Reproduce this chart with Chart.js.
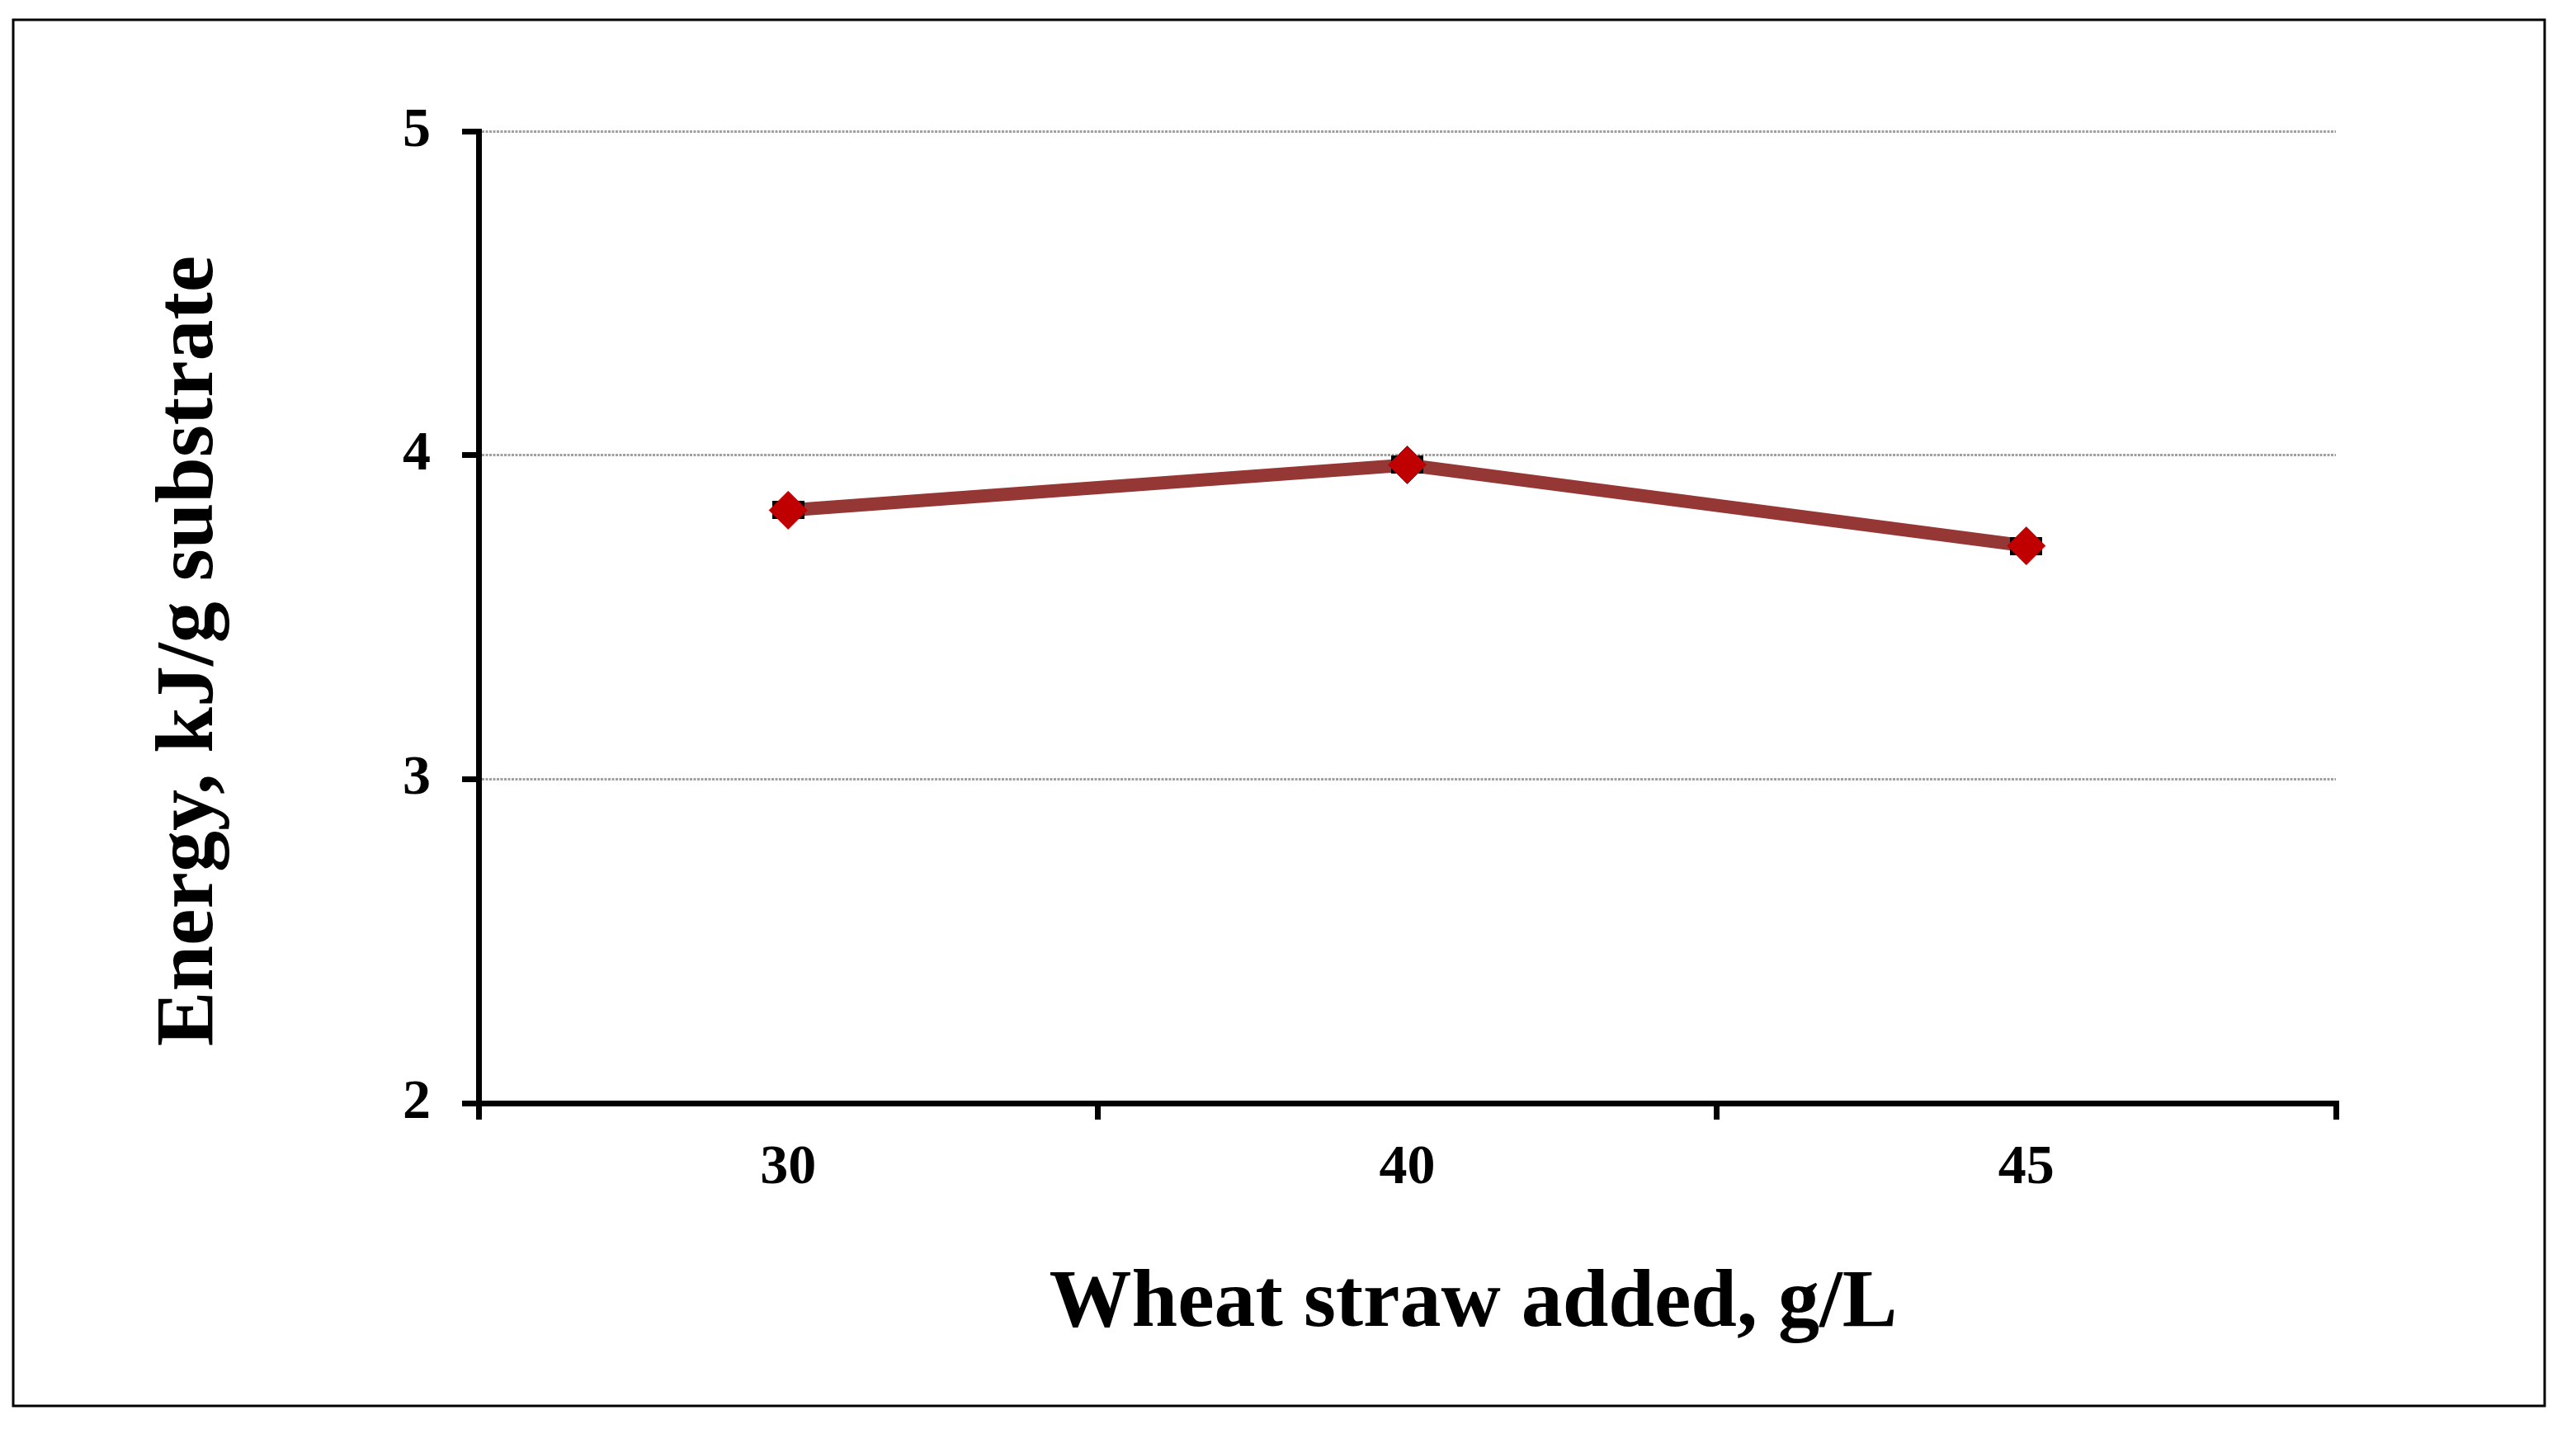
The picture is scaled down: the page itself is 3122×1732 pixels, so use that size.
<!DOCTYPE html>
<html>
<head>
<meta charset="utf-8">
<title>Energy vs wheat straw added</title>
<script src="https://cdn.jsdelivr.net/npm/chart.js@4.4.1/dist/chart.umd.min.js"></script>
<style>
    html, body { margin: 0; padding: 0; background: #fff; }
    #wrap { width: 3122px; height: 1732px; position: relative; }
</style>
</head>
<body>
<div id="wrap"><canvas id="energy-chart"></canvas></div>
<script>
// Chart data
const categories = ['30', '40', '45'];
const energyValues = [3.83, 3.97, 3.72];
const yMin = 2;
const yMax = 5;
const yStep = 1;

const xTitle = 'Wheat straw added, g/L';
const yTitle = 'Energy, kJ/g substrate';

document.addEventListener('DOMContentLoaded', function() {
    const serif = "'Liberation Serif', 'Times New Roman', serif";

    // black bar that sits behind each diamond marker
    const capMark = document.createElement('canvas');
    capMark.width = 39;
    capMark.height = 22;
    const capCtx = capMark.getContext('2d');
    capCtx.fillStyle = '#000';
    capCtx.fillRect(0, 0, 39, 22);

    // Frame and axis titles
    const decorations = {
        id: 'decorations',
        afterDraw(chart) {
            const ctx = chart.ctx;
            const area = chart.chartArea;
            ctx.save();
            ctx.strokeStyle = '#000';
            ctx.lineWidth = 3;
            ctx.strokeRect(16, 24, 3068, 1680);

            ctx.fillStyle = '#000';
            ctx.font = 'bold 100px ' + serif;
            ctx.textAlign = 'center';
            ctx.textBaseline = 'alphabetic';
            ctx.fillText(xTitle, (area.left + area.right) / 2 + 80, area.bottom + 270);

            ctx.translate(area.left - 323, (area.top + area.bottom) / 2 + 41);
            ctx.rotate(-Math.PI / 2);
            ctx.fillText(yTitle, 0, 0);
            ctx.restore();
        }
    };

    new Chart(document.getElementById('energy-chart'), {
        type: 'line',
        data: {
            labels: categories,
            datasets: [{
                label: 'marker',
                data: energyValues,
                showLine: false,
                pointStyle: 'rectRot',
                pointRadius: 23,
                pointBackgroundColor: '#C00000',
                pointBorderColor: '#C00000',
                pointBorderWidth: 1,
                order: 0
            }, {
                label: 'cap',
                data: energyValues,
                showLine: false,
                pointStyle: capMark,
                order: 1
            }, {
                label: 'Energy',
                data: energyValues,
                borderColor: '#953735',
                borderWidth: 16,
                pointRadius: 0,
                tension: 0,
                order: 2
            }]
        },
        options: {
            responsive: true,
            maintainAspectRatio: false,
            animation: false,
            layout: { padding: { top: 159, right: 291, left: 0, bottom: 0 } },
            plugins: {
                legend: { display: false },
                tooltip: { enabled: false }
            },
            scales: {
                x: {
                    offset: true,
                    afterFit: function(scale) { scale.height = 395; },
                    grid: {
                        offset: true,
                        drawOnChartArea: false,
                        drawTicks: true,
                        tickLength: 20,
                        lineWidth: 7,
                        tickWidth: 7,
                        color: '#000',
                        tickColor: '#000'
                    },
                    border: { display: true, color: '#000', width: 7 },
                    ticks: {
                        color: '#000',
                        padding: 19,
                        font: { family: serif, size: 68, weight: 'bold' }
                    }
                },
                y: {
                    min: yMin,
                    max: yMax,
                    afterFit: function(scale) { scale.width = 580; },
                    grid: {
                        color: '#A0A0A0',
                        lineWidth: 3,
                        tickLength: 20,
                        tickWidth: 7,
                        tickColor: '#000'
                    },
                    border: { display: true, color: '#000', width: 7, dash: [3, 1.5] },
                    ticks: {
                        stepSize: yStep,
                        color: '#000',
                        padding: 38,
                        font: { family: serif, size: 68, weight: 'bold' }
                    }
                }
            }
        },
        plugins: [decorations]
    });
});
</script>
</body>
</html>
